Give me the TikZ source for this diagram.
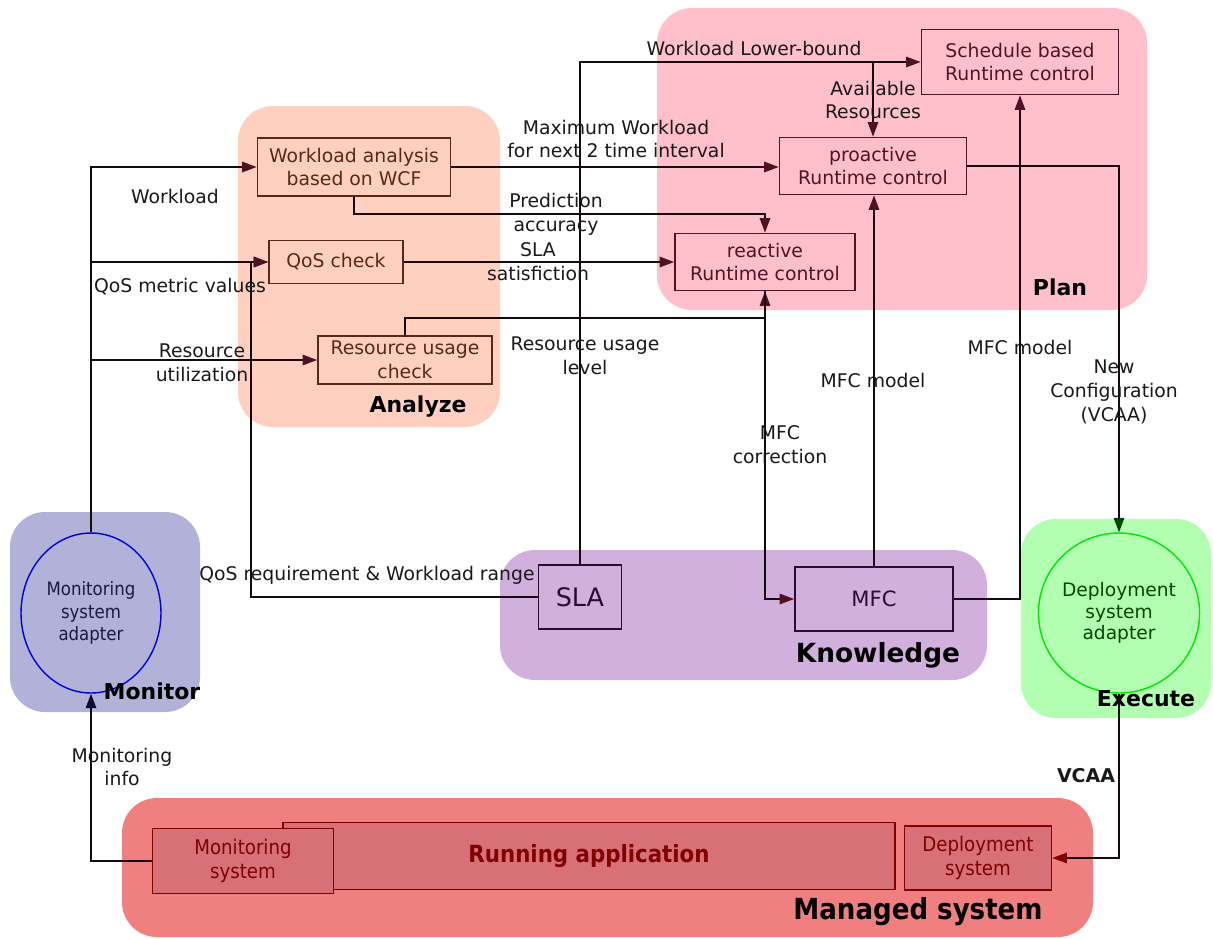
\documentclass[tikz,border=0pt]{standalone}
\usepackage{fontspec}
\setmainfont{DejaVu Sans}
\newfontfamily\condfont{DejaVu Sans Condensed}
\usetikzlibrary{arrows.meta, positioning, shapes.geometric}
\definecolor{analyzebg}{RGB}{255,208,192}
\definecolor{planbg}{RGB}{255,192,203}
\definecolor{monitorbg}{RGB}{178,178,216}
\definecolor{knowbg}{RGB}{210,176,222}
\definecolor{execbg}{RGB}{178,255,178}
\definecolor{managedbg}{RGB}{240,128,128}
\definecolor{appfill}{RGB}{216,112,120}
\definecolor{appdraw}{RGB}{128,0,0}
\definecolor{anadraw}{RGB}{90,40,25}
\definecolor{plandraw}{RGB}{80,20,40}
\definecolor{knowdraw}{RGB}{45,10,50}
\definecolor{linecol}{RGB}{20,10,15}
\definecolor{tipcol}{RGB}{80,15,35}
\definecolor{monblue}{RGB}{0,0,220}
\definecolor{montext}{RGB}{25,25,70}
\definecolor{exgreen}{RGB}{0,230,0}
\definecolor{extext}{RGB}{0,70,0}
\definecolor{montip}{RGB}{10,10,50}

\begin{document}
\begin{tikzpicture}[x=0.02cm, y=-0.02cm,
  region/.style={rounded corners=0.7cm},
  lbl/.style={align=center, inner sep=0pt, text=black!90, font=\fontsize{10.7}{13.6}\selectfont},
  title/.style={inner sep=0pt, font=\fontsize{12.5}{15}\selectfont\bfseries},
  abox/.style={draw=anadraw, line width=1pt, text=anadraw, align=center, inner sep=0pt, font=\fontsize{10.7}{13.6}\selectfont},
  pbox/.style={abox, draw=plandraw, text=plandraw},
  kbox/.style={abox, draw=knowdraw, text=knowdraw},
  mbox/.style={draw=appdraw, fill=appfill, line width=1pt, text=appdraw, align=center, inner sep=0pt, font=\condfont\fontsize{11.5}{13.6}\selectfont},
  conn/.style={draw=linecol, line width=0.75pt, -{Triangle[length=2.9mm, width=2.1mm, color=tipcol]}}
]
  \useasboundingbox (0,0) rectangle (1213,938);

  \fill[region, analyzebg] (238,106) rectangle (500,427);
  \fill[region, planbg] (657,8) rectangle (1147,310);
  \fill[region, monitorbg] (10,512) rectangle (200,712);
  \fill[region, knowbg] (500,550) rectangle (987,680);
  \fill[region, execbg] (1021,519) rectangle (1211,718);
  \fill[region, managedbg] (122,798) rectangle (1093,937);

  \node[abox, minimum width=3.86cm, minimum height=1.16cm] (wla) at (354,167) {Workload analysis\\based on WCF};
  \node[abox, minimum width=2.68cm, minimum height=0.86cm] (qos) at (336,262) {QoS check};
  \node[abox, minimum width=3.48cm, minimum height=0.96cm] (ruc) at (405,360) {Resource usage\\check};

  \node[pbox, minimum width=3.94cm, minimum height=1.3cm] (sched) at (1020,62) {Schedule based\\Runtime control};
  \node[pbox, minimum width=3.74cm, minimum height=1.14cm] (pro) at (873,166) {proactive\\Runtime control};
  \node[pbox, minimum width=3.6cm, minimum height=1.14cm] (rea) at (765,262) {reactive\\Runtime control};

  \node[kbox, minimum width=1.66cm, minimum height=1.28cm, font=\fontsize{14.5}{16}\selectfont] (sla) at (580,597) {SLA};
  \node[kbox, minimum width=3.16cm, minimum height=1.28cm, font=\fontsize{12}{14}\selectfont] (mfc) at (874,599) {MFC};

  \node[ellipse, draw=monblue, line width=0.8pt, fill=monitorbg, minimum width=2.8cm, minimum height=3.2cm, inner sep=0pt, align=center, text=montext, font=\condfont\fontsize{10.5}{12.6}\selectfont] (madapt) at (91,613) {Monitoring\\system\\adapter};
  \node[ellipse, draw=exgreen, line width=0.8pt, fill=execbg, minimum width=2.8cm, minimum height=3.2cm, inner sep=0pt, align=center, text=extext, font=\fontsize{10.6}{12.4}\selectfont] (dadapt) at (1119,613) {Deployment\\system\\adapter};

  \node[mbox, minimum width=12.24cm, minimum height=1.34cm, font=\condfont\fontsize{13.5}{16}\selectfont\bfseries] (app) at (589,856) {Running application};
  \node[mbox, minimum width=3.62cm, minimum height=1.3cm] (msys) at (243,861) {Monitoring\\system};
  \node[mbox, minimum width=2.94cm, minimum height=1.28cm] (dsys) at (978,858) {Deployment\\system};

  \node[title] (tana) at (418,407) {Analyze};
  \node[title] (tplan) at (1060,287) {Plan};
  \node[title] (tmon) at (152,691) {Monitor};
  \node[title, font=\fontsize{15}{18}\selectfont\bfseries] (tknow) at (878,655) {Knowledge};
  \node[title] (texec) at (1146,699) {Execute};
  \node[title, font=\condfont\fontsize{16.5}{20}\selectfont\bfseries] (tman) at (918,912) {Managed system};

  \coordinate (slabend) at (251,262);
  \coordinate (predbend) at (354,214);
  \coordinate (rubend) at (405,318);

  \draw[conn] (madapt.north) |- (wla.west);
  \draw[conn] (madapt.north |- qos.west) -- (qos.west);
  \draw[conn] (madapt.north |- ruc.west) -- (ruc.west);
  \draw[conn] (sla.west) -| (slabend) -- (qos.west);
  \draw[conn] (sla.north) |- (sched.west);
  \draw[conn] (pro.north |- sched.west) -- (pro.north);
  \draw[conn] (wla.east) -- (wla.east -| pro.west);
  \draw[conn] (wla.south) -- (predbend) -| (rea.north);
  \draw[conn] (qos.east) -- (qos.east -| rea.west);
  \draw[conn] (ruc.north) -- (rubend) -| (rea.south);
  \draw[conn] (rea.south) |- (mfc.west);
  \draw[conn] (mfc.north) -- (mfc.north |- pro.south);
  \draw[conn] (mfc.east) -| (sched.south);
  \draw[conn, -{Triangle[length=2.9mm, width=2.1mm, color=extext]}] (pro.east) -| (dadapt.north);
  \draw[conn, -{Triangle[length=2.9mm, width=2.1mm, color=appdraw]}] (dadapt.south) |- (dsys.east);
  \draw[conn, -{Triangle[length=2.9mm, width=2.1mm, color=montip]}] (msys.west) -| (madapt.south);

  \node[lbl] (lwork) at (175,196) {Workload};
  \node[lbl] (lqos) at (180,287) {QoS metric values};
  \node[lbl] (lres) at (202,363) {Resource\\utilization};
  \node[lbl] (lmax) at (616,139) {Maximum Workload\\for next 2 time interval};
  \node[lbl] (lpred) at (556,214) {Prediction\\accuracy};
  \node[lbl] (lsat) at (538,262) {SLA\\satisfiction};
  \node[lbl] (llow) at (754,48) {Workload Lower-bound};
  \node[lbl] (lavail) at (873,100) {Available\\Resources};
  \node[lbl] (lrul) at (585,356) {Resource usage\\level};
  \node[lbl] (lcorr) at (780,445) {MFC\\correction};
  \node[lbl] (lmfc1) at (873,380) {MFC model};
  \node[lbl] (lmfc2) at (1020,347) {MFC model};
  \node[lbl] (lconf) at (1114,392) {New\\Configuration\\(VCAA)};
  \node[lbl] (lreq) at (367,575) {QoS requirement \& Workload range};
  \node[lbl] (linfo) at (122,767) {Monitoring\\info};
  \node[lbl, font=\fontsize{10.8}{13}\selectfont\bfseries] (lvcaa) at (1086,776) {VCAA};
\end{tikzpicture}
\end{document}
